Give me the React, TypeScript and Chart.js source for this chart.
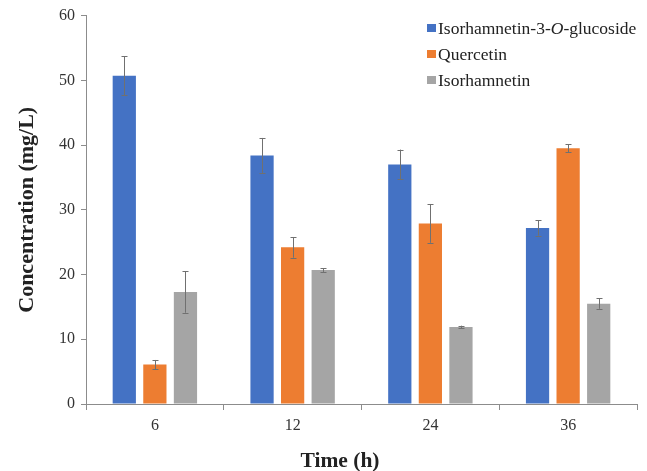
import React, { useEffect, useRef } from "react";
import { Chart, registerables } from "chart.js";

Chart.register(...registerables);

const categories = ["6", "12", "24", "36"];
const seriesNames = ["Isorhamnetin-3-O-glucoside", "Quercetin", "Isorhamnetin"];
const glucoside = [50.7, 38.4, 37.0, 27.2];
const quercetin = [6.1, 24.2, 27.9, 39.5];
const isorhamnetin = [17.3, 20.7, 11.9, 15.5];
const glucosideErr = [3.0, 2.7, 2.3, 1.2];
const quercetinErr = [0.7, 1.6, 3.0, 0.6];
const isorhamnetinErr = [3.2, 0.3, 0.2, 0.8];
const colors = ["#4472C4", "#ED7D31", "#A5A5A5"];
const xTitle = "Time (h)";
const yTitle = "Concentration (mg/L)";

const FONT = '"Liberation Serif", "Times New Roman", serif';

const errorBarPlugin = {
  id: "errorBars",
  afterDatasetsDraw(chart: any) {
    const ctx = chart.ctx;
    const yScale = chart.scales.y;
    const errs = [glucosideErr, quercetinErr, isorhamnetinErr];
    ctx.save();
    ctx.strokeStyle = "#707070";
    ctx.lineWidth = 1;
    chart.data.datasets.forEach((ds: any, di: number) => {
      const meta = chart.getDatasetMeta(di);
      meta.data.forEach((bar: any, i: number) => {
        const v = ds.data[i];
        const e = errs[di][i];
        const x = Math.round(bar.x) + 0.5;
        const yTop = yScale.getPixelForValue(v + e);
        const yBot = yScale.getPixelForValue(v - e);
        ctx.beginPath();
        ctx.moveTo(x, yTop);
        ctx.lineTo(x, yBot);
        ctx.moveTo(x - 3, Math.round(yTop) + 0.5);
        ctx.lineTo(x + 3, Math.round(yTop) + 0.5);
        ctx.moveTo(x - 3, Math.round(yBot) + 0.5);
        ctx.lineTo(x + 3, Math.round(yBot) + 0.5);
        ctx.stroke();
      });
    });
    ctx.restore();
  },
};

const legendPlugin = {
  id: "customLegend",
  afterDraw(chart: any) {
    const ctx = chart.ctx;
    ctx.save();
    const x0 = 427;
    const ys = [28, 54, 80];
    ctx.textBaseline = "middle";
    seriesNames.forEach((name, i) => {
      ctx.fillStyle = colors[i];
      ctx.fillRect(x0, ys[i] - 4, 9, 8);
      ctx.fillStyle = "#222";
      let x = x0 + 11;
      if (i === 0) {
        const parts: [string, boolean][] = [
          ["Isorhamnetin-3-", false],
          ["O", true],
          ["-glucoside", false],
        ];
        parts.forEach(([t, it]) => {
          ctx.font = `${it ? "italic " : ""}17.5px ${FONT}`;
          ctx.fillText(t, x, ys[i] + 1);
          x += ctx.measureText(t).width;
        });
      } else {
        ctx.font = `17.5px ${FONT}`;
        ctx.fillText(name, x, ys[i] + 1);
      }
    });
    // x axis title (offset left of the plot centre, as in the reference)
    ctx.font = `bold 21.5px ${FONT}`;
    ctx.textAlign = "center";
    ctx.textBaseline = "middle";
    ctx.fillStyle = "#222";
    ctx.fillText(xTitle, 340, 461);
    ctx.restore();
  },
};

export default function App() {
  const ref = useRef<HTMLCanvasElement | null>(null);

  useEffect(() => {
    document.body.style.margin = "0";
    const canvas = ref.current;
    if (!canvas) return;
    const chart = new Chart(canvas, {
      type: "bar",
      data: {
        labels: categories,
        datasets: [
          { label: seriesNames[0], data: glucoside, backgroundColor: colors[0] },
          { label: seriesNames[1], data: quercetin, backgroundColor: colors[1] },
          { label: seriesNames[2], data: isorhamnetin, backgroundColor: colors[2] },
        ],
      },
      options: {
        animation: false,
        responsive: false,
        maintainAspectRatio: false,
        datasets: {
          bar: { categoryPercentage: 0.666, barPercentage: 0.76 },
        },
        layout: { padding: { left: 0, right: 10, top: 15, bottom: 0 } },
        plugins: {
          legend: { display: false },
          tooltip: { enabled: false },
        },
        scales: {
          x: {
            grid: {
              display: true,
              drawOnChartArea: false,
              drawTicks: true,
              tickLength: 6,
              offset: true,
              color: "#8c8c8c",
            },
            border: { color: "#8c8c8c", width: 1 },
            ticks: { color: "#333", font: { family: FONT, size: 16 }, padding: 6 },
            title: { display: false },
            afterFit(scale: any) {
              scale.height = 67;
            },
          },
          y: {
            min: 0,
            max: 60,
            ticks: { stepSize: 10, color: "#333", font: { family: FONT, size: 16 }, padding: 6 },
            grid: {
              display: true,
              drawOnChartArea: false,
              drawTicks: true,
              tickLength: 5,
              color: "#8c8c8c",
            },
            border: { color: "#8c8c8c", width: 1 },
            title: {
              display: true,
              text: yTitle,
              color: "#222",
              font: { family: FONT, size: 22, weight: "bold" },
              padding: { top: 14, bottom: 0 },
            },
            afterFit(scale: any) {
              scale.width = 86;
            },
          },
        },
      },
      plugins: [errorBarPlugin, legendPlugin],
    } as any);
    return () => chart.destroy();
  }, []);

  return (
    <div style={{ width: 647, height: 471 }}>
      <canvas ref={ref} width={647} height={471} style={{ display: "block" }} />
    </div>
  );
}
